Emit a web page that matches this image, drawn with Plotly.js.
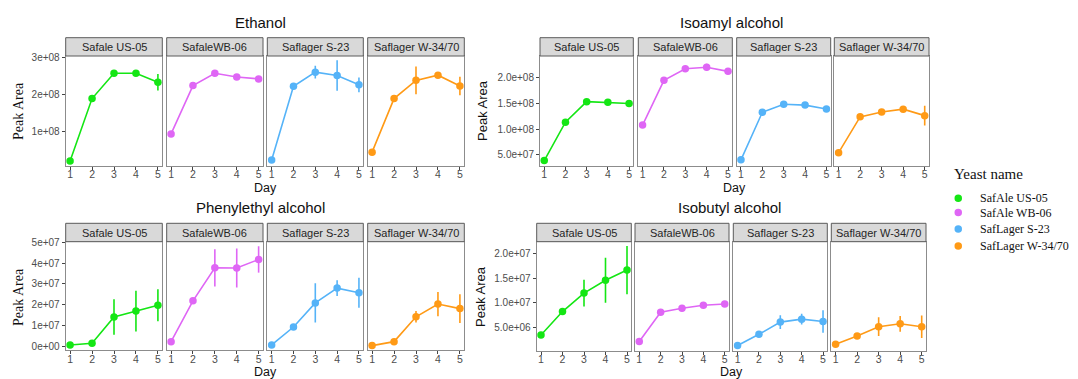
<!DOCTYPE html>
<html>
<head>
<meta charset="utf-8">
<script src="https://cdn.plot.ly/plotly-3.0.1.min.js"></script>
<style>html,body{margin:0;padding:0;background:#fff;}#chart{width:1078px;height:379px;}</style>
</head>
<body>
<div id="chart"></div>
<script>
// ---------- DATA ----------
const days = [1, 2, 3, 4, 5];
const facetLabels = ["Safale US-05", "SafaleWB-06", "Saflager S-23", "Saflager W-34/70"];
const legendNames = ["SafAle US-05", "SafAle WB-06", "SafLager S-23", "SafLager W-34/70"];
const compoundNames = ["Ethanol", "Isoamyl alcohol", "Phenylethyl alcohol", "Isobutyl alcohol"];

// means per yeast (US-05, WB-06, S-23, W-34/70)
const ethanolMean = [
  [0.21e8, 1.89e8, 2.57e8, 2.57e8, 2.33e8],
  [0.94e8, 2.24e8, 2.57e8, 2.47e8, 2.42e8],
  [0.24e8, 2.22e8, 2.60e8, 2.51e8, 2.26e8],
  [0.45e8, 1.89e8, 2.38e8, 2.52e8, 2.23e8]
];
const ethanolErr = [
  [0.01e8, 0.02e8, 0.03e8, 0.03e8, 0.22e8],
  [0.02e8, 0.03e8, 0.04e8, 0.03e8, 0.03e8],
  [0.02e8, 0.03e8, 0.17e8, 0.41e8, 0.20e8],
  [0.02e8, 0.03e8, 0.37e8, 0.05e8, 0.25e8]
];
const isoamylMean = [
  [0.385e8, 1.135e8, 1.537e8, 1.525e8, 1.50e8],
  [1.08e8, 1.955e8, 2.18e8, 2.21e8, 2.13e8],
  [0.40e8, 1.33e8, 1.486e8, 1.47e8, 1.395e8],
  [0.54e8, 1.24e8, 1.336e8, 1.39e8, 1.264e8]
];
const isoamylErr = [
  [0.01e8, 0.02e8, 0.02e8, 0.02e8, 0.04e8],
  [0.02e8, 0.03e8, 0.05e8, 0.07e8, 0.03e8],
  [0.01e8, 0.02e8, 0.03e8, 0.03e8, 0.04e8],
  [0.02e8, 0.02e8, 0.03e8, 0.03e8, 0.195e8]
];
const phenylMean = [
  [0.08e7, 0.16e7, 1.42e7, 1.70e7, 1.98e7],
  [0.24e7, 2.19e7, 3.77e7, 3.76e7, 4.17e7],
  [0.08e7, 0.94e7, 2.09e7, 2.80e7, 2.58e7],
  [0.05e7, 0.24e7, 1.43e7, 2.04e7, 1.82e7]
];
const phenylErr = [
  [0.05e7, 0.05e7, 0.85e7, 0.97e7, 0.77e7],
  [0.05e7, 0.10e7, 0.89e7, 0.93e7, 0.63e7],
  [0.05e7, 0.10e7, 0.94e7, 0.38e7, 0.72e7],
  [0.05e7, 0.10e7, 0.27e7, 0.58e7, 0.69e7]
];
const isobutylMean = [
  [0.346e7, 0.821e7, 1.196e7, 1.457e7, 1.665e7],
  [0.212e7, 0.808e7, 0.888e7, 0.948e7, 0.975e7],
  [0.131e7, 0.359e7, 0.607e7, 0.667e7, 0.620e7],
  [0.158e7, 0.325e7, 0.513e7, 0.573e7, 0.513e7]
];
const isobutylErr = [
  [0.05e7, 0.05e7, 0.27e7, 0.455e7, 0.49e7],
  [0.03e7, 0.04e7, 0.05e7, 0.05e7, 0.05e7],
  [0.03e7, 0.04e7, 0.14e7, 0.11e7, 0.23e7],
  [0.03e7, 0.04e7, 0.19e7, 0.16e7, 0.23e7]
];

const ethanolTicks = [1e8, 2e8, 3e8];
const ethanolTickText = ["1e+08", "2e+08", "3e+08"];
const isoamylTicks = [5e7, 1e8, 1.5e8, 2e8];
const isoamylTickText = ["5.0e+07", "1.0e+08", "1.5e+08", "2.0e+08"];
const phenylTicks = [0, 1e7, 2e7, 3e7, 4e7, 5e7];
const phenylTickText = ["0e+00", "1e+07", "2e+07", "3e+07", "4e+07", "5e+07"];
const isobutylTicks = [5e6, 1e7, 1.5e7, 2e7];
const isobutylTickText = ["5.0e+06", "1.0e+07", "1.5e+07", "2.0e+07"];

// ---------- STYLE / LAYOUT ----------
const W = 1078, H = 379;
const colors = ["#14e614", "#df66f5", "#55b3f8", "#ff9a16"];
const sans = "Liberation Sans, Arial, sans-serif";
const serif = "Liberation Serif, Times New Roman, serif";

const panels = [
  {mean: ethanolMean, err: ethanolErr, ticks: ethanolTicks, tickText: ethanolTickText,
   yrange: [0.086e8, 3.035e8], facets: [[65.7,162.3],[166.7,263],[267.3,363.3],[367.7,464.3]],
   top: 56, bottom: 165.7, stripTop: 37.7, titleX: 260, titleY: 23,
   ylabX: 18, ylabY: 111, ylabFont: serif, ylabSize: 14, dayX: 265, dayY: 188},
  {mean: isoamylMean, err: isoamylErr, ticks: isoamylTicks, tickText: isoamylTickText,
   yrange: [0.285e8, 2.43e8], facets: [[540,633.3],[638.3,732.3],[736.7,830.7],[834.3,929]],
   top: 56, bottom: 165.7, stripTop: 37.7, titleX: 731, titleY: 23,
   ylabX: 482, ylabY: 111, ylabFont: sans, ylabSize: 13, dayX: 734, dayY: 188},
  {mean: phenylMean, err: phenylErr, ticks: phenylTicks, tickText: phenylTickText,
   yrange: [-0.16e7, 5.02e7], facets: [[65.7,162.3],[166.7,263],[267.3,363.3],[367.7,464.3]],
   top: 241.7, bottom: 350, stripTop: 223.3, titleX: 260, titleY: 207.5,
   ylabX: 18, ylabY: 297, ylabFont: serif, ylabSize: 14, dayX: 265, dayY: 371.5},
  {mean: isobutylMean, err: isobutylErr, ticks: isobutylTicks, tickText: isobutylTickText,
   yrange: [0.03e7, 2.24e7], facets: [[536.7,631.3],[635,729],[733.3,827.3],[831.3,926]],
   top: 241.7, bottom: 350.5, stripTop: 223.3, titleX: 729, titleY: 207.5,
   ylabX: 480, ylabY: 297, ylabFont: sans, ylabSize: 13, dayX: 731, dayY: 371.5}
];

const px = x => x / W;
const py = y => 1 - y / H;

const traces = [];
const layout = {
  width: W, height: H,
  margin: {l: 0, r: 0, t: 0, b: 0},
  paper_bgcolor: "#ffffff", plot_bgcolor: "#ffffff",
  showlegend: false,
  font: {family: sans, color: "#4d4d4d"},
  shapes: [], annotations: []
};

panels.forEach((p, pi) => {
  p.facets.forEach((fx, fi) => {
    const idx = pi * 4 + fi + 1;
    const xa = "x" + (idx === 1 ? "" : idx);
    const ya = "y" + (idx === 1 ? "" : idx);
    const xKey = "xaxis" + (idx === 1 ? "" : idx);
    const yKey = "yaxis" + (idx === 1 ? "" : idx);
    layout[xKey] = {
      domain: [px(fx[0]), px(fx[1])], anchor: ya, range: [0.8, 5.2],
      tickvals: days, ticktext: days.map(String), ticks: "outside", ticklen: 3, tickcolor: "#444",
      ticklabelstandoff: -4,
      tickfont: {size: 10.5, color: "#4d4d4d", family: sans},
      showgrid: false, zeroline: false, showline: true, mirror: true, linecolor: "#8c8c8c", linewidth: 1,
      fixedrange: true
    };
    layout[yKey] = {
      domain: [py(p.bottom), py(p.top)], anchor: xa, range: p.yrange,
      tickvals: p.ticks, ticktext: p.tickText,
      ticks: fi === 0 ? "outside" : "", ticklen: 3, tickcolor: "#444",
      showticklabels: fi === 0,
      tickfont: {size: 10, color: "#4d4d4d", family: sans},
      showgrid: false, zeroline: false, showline: true, mirror: true, linecolor: "#8c8c8c", linewidth: 1,
      fixedrange: true
    };
    traces.push({
      type: "scatter", mode: "lines+markers", x: days, y: p.mean[fi],
      xaxis: xa, yaxis: ya, name: legendNames[fi],
      line: {color: colors[fi], width: 1.6},
      marker: {color: colors[fi], size: 7.5},
      error_y: {type: "data", array: p.err[fi], visible: true, color: colors[fi], thickness: 1.6, width: 0},
      showlegend: false, hoverinfo: "skip"
    });
    // strip
    layout.shapes.push({type: "rect", xref: "paper", yref: "paper",
      x0: px(fx[0]), x1: px(fx[1]), y0: py(p.top), y1: py(p.stripTop),
      fillcolor: "#d9d9d9", line: {color: "#5a5a5a", width: 1}, layer: "above"});
    layout.annotations.push({xref: "paper", yref: "paper",
      x: px((fx[0] + fx[1]) / 2), y: py((p.top + p.stripTop) / 2),
      text: facetLabels[fi], showarrow: false, xanchor: "center", yanchor: "middle",
      font: {family: sans, size: 11, color: "#262626"}});
  });
  layout.annotations.push({xref: "paper", yref: "paper", x: px(p.titleX), y: py(p.titleY),
    text: compoundNames[pi], showarrow: false, xanchor: "center", yanchor: "middle",
    font: {family: sans, size: 15, color: "#111"}});
  layout.annotations.push({xref: "paper", yref: "paper", x: px(p.ylabX), y: py(p.ylabY),
    text: "Peak Area", textangle: -90, showarrow: false, xanchor: "center", yanchor: "middle",
    font: {family: p.ylabFont, size: p.ylabSize, color: "#111"}});
  layout.annotations.push({xref: "paper", yref: "paper", x: px(p.dayX), y: py(p.dayY),
    text: "Day", showarrow: false, xanchor: "center", yanchor: "middle",
    font: {family: sans, size: 12.5, color: "#111"}});
});

// legend (drawn manually)
layout.annotations.push({xref: "paper", yref: "paper", x: px(952), y: py(173.5),
  text: "Yeast name", showarrow: false, xanchor: "left", yanchor: "middle",
  font: {family: serif, size: 15, color: "#111"}});
const legY = [198.3, 212.5, 229, 246];
legendNames.forEach((n, i) => {
  layout.shapes.push({type: "circle", xref: "paper", yref: "paper",
    x0: px(954.5), x1: px(962), y0: py(legY[i] + 3.75), y1: py(legY[i] - 3.75),
    fillcolor: colors[i], line: {width: 0}});
  layout.annotations.push({xref: "paper", yref: "paper", x: px(978), y: py(legY[i]),
    text: n, showarrow: false, xanchor: "left", yanchor: "middle",
    font: {family: serif, size: 12, color: "#111"}});
});

Plotly.newPlot("chart", traces, layout, {staticPlot: true, displayModeBar: false});
</script>
</body>
</html>
